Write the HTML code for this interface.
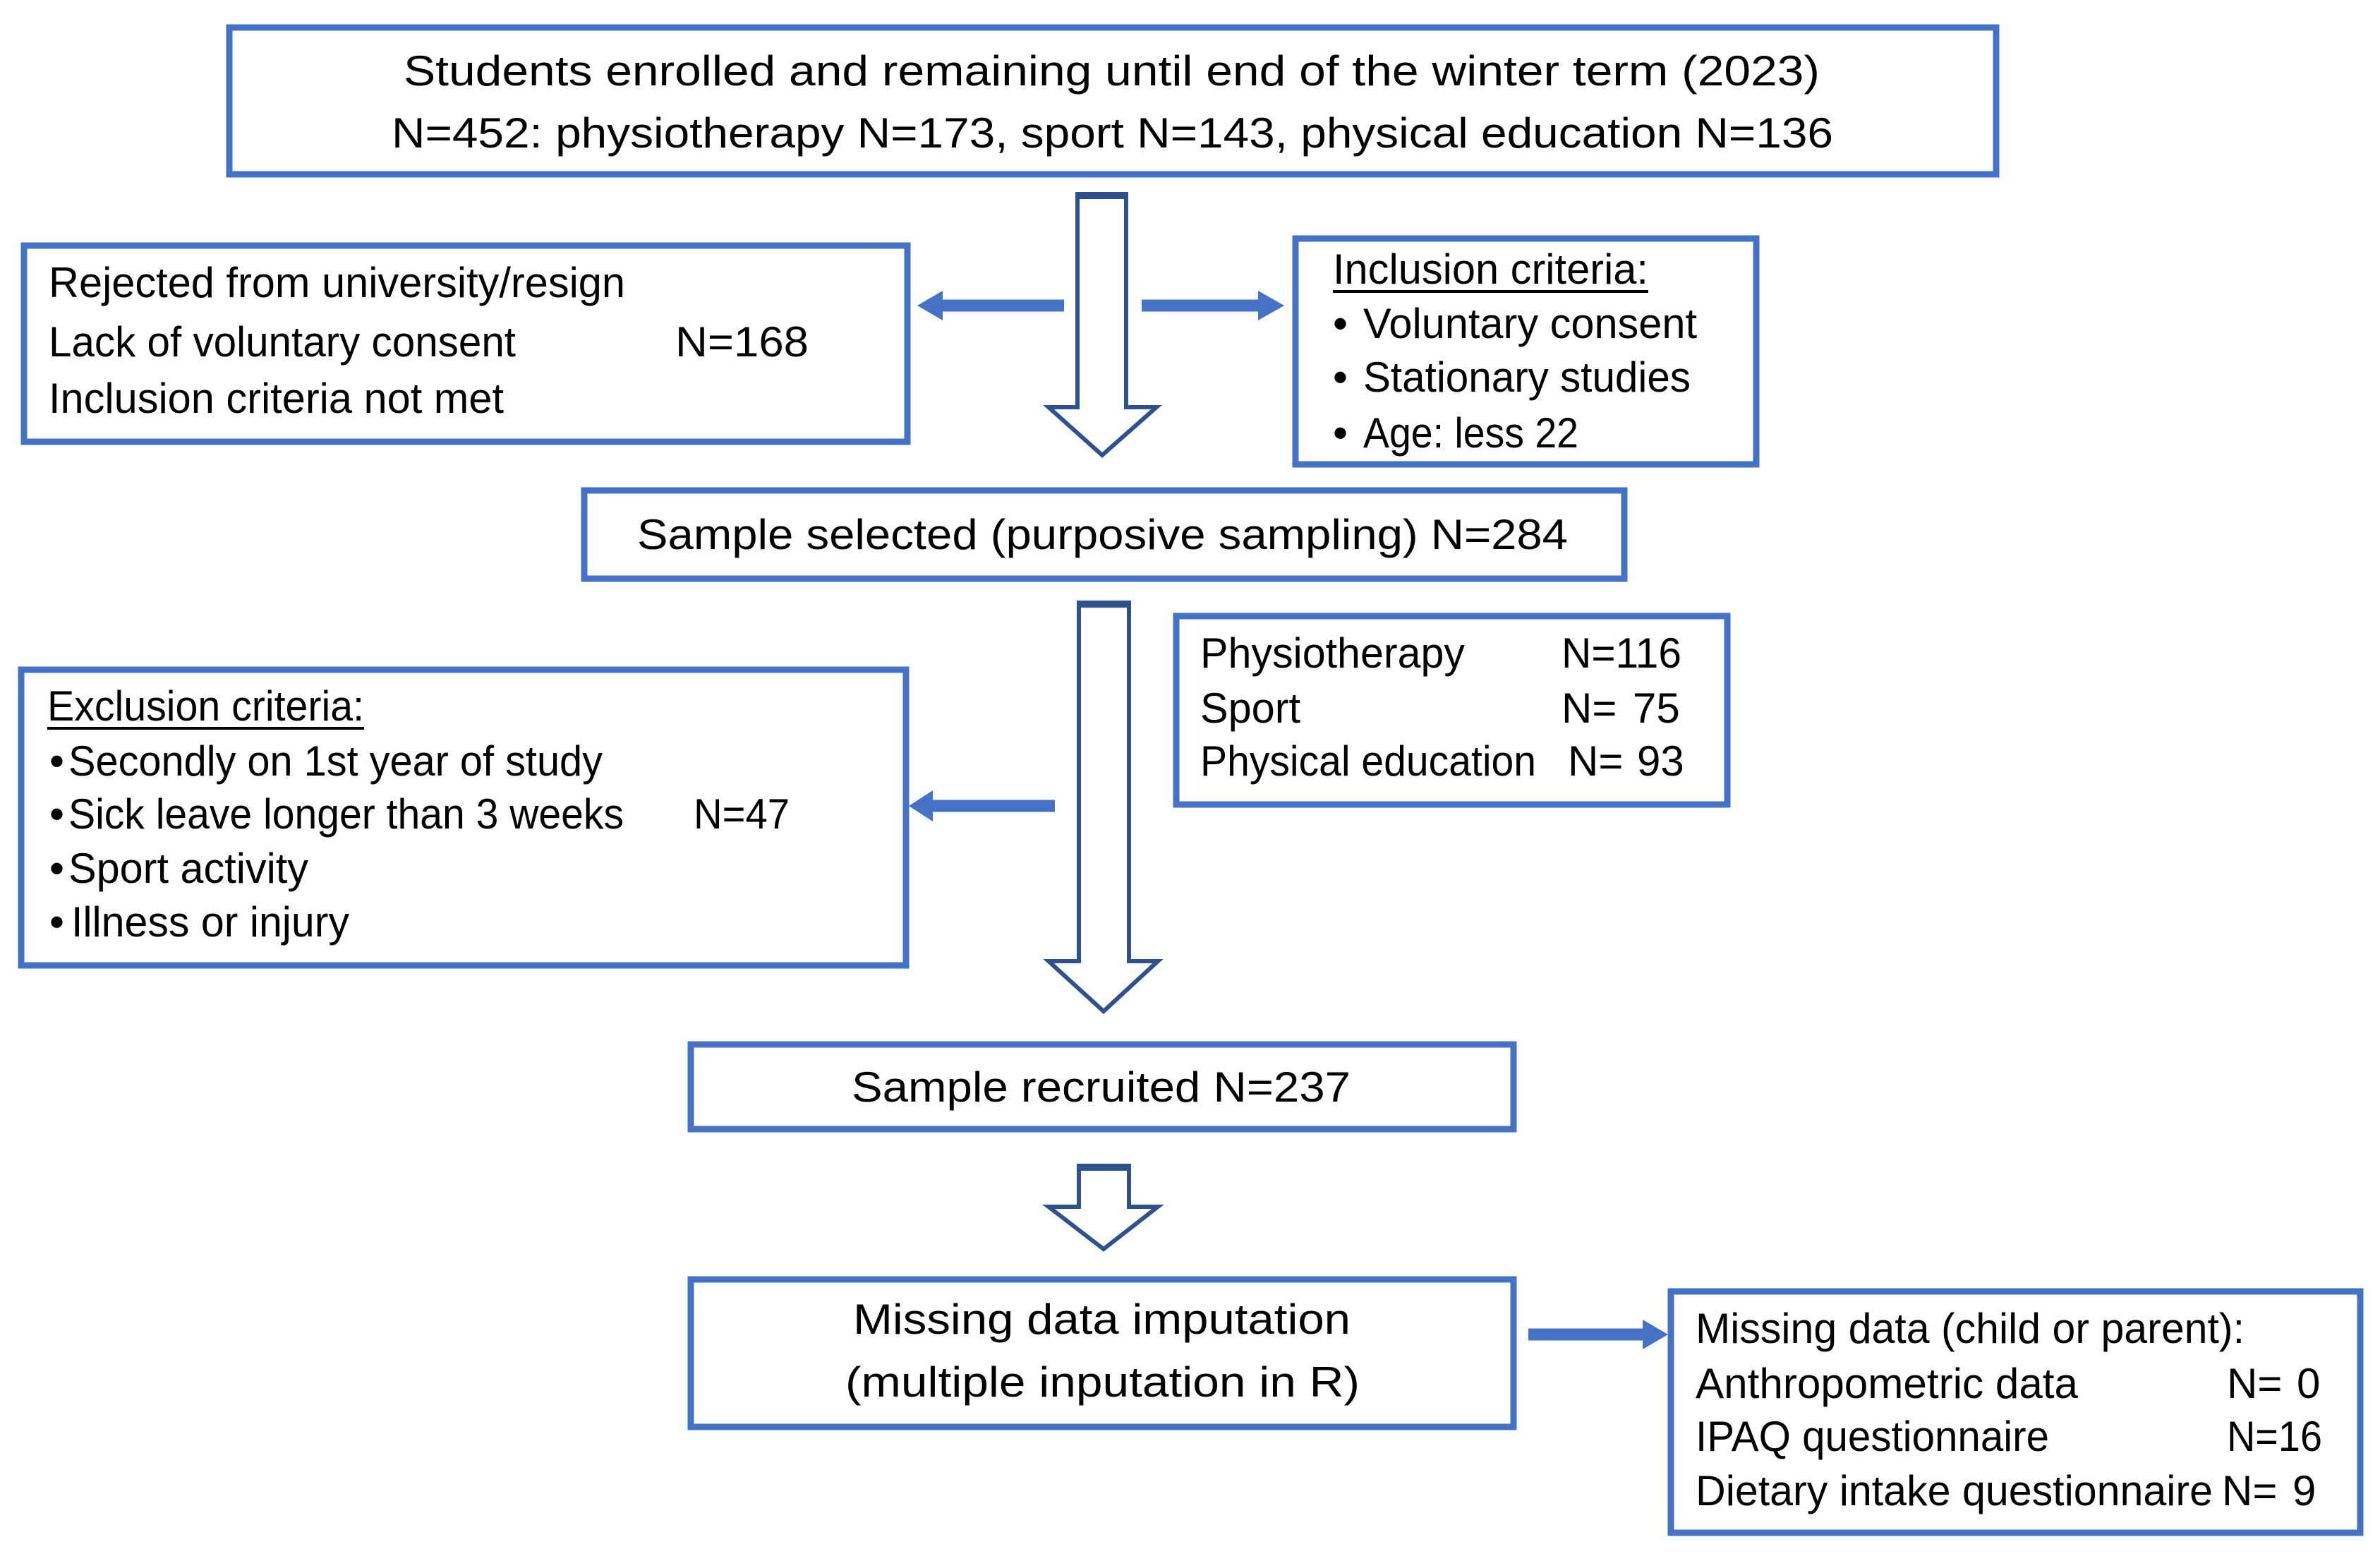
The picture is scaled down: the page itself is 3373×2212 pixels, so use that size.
<!DOCTYPE html>
<html><head><meta charset="utf-8"><style>
html,body{margin:0;padding:0;background:#fff;}
svg{display:block;}
text{font-family:"Liberation Sans",sans-serif;font-size:60px;fill:#000;}
</style></head><body>
<svg width="3373" height="2212" viewBox="0 0 3373 2212" xmlns="http://www.w3.org/2000/svg">
<g fill="#fff" stroke="#4472C4" stroke-width="9">
<rect x="325" y="39" width="2504" height="208"/>
<rect x="34" y="348" width="1252" height="278"/>
<rect x="1836" y="338" width="653" height="320"/>
<rect x="828" y="695" width="1474" height="125"/>
<rect x="1667" y="873" width="781" height="267"/>
<rect x="30" y="949" width="1254" height="419"/>
<rect x="979" y="1480" width="1166" height="120"/>
<rect x="979" y="1813" width="1166" height="209"/>
<rect x="2368" y="1830" width="977" height="342"/>
</g>
<g fill="#fff" stroke="#2F528F" stroke-width="6" stroke-linejoin="miter">
<polygon points="1527,275 1596,275 1596,577 1639,577 1562,645 1486,577 1527,577"/>
<polygon points="1529,854 1600,854 1600,1362 1641,1362 1564,1433 1486,1362 1529,1362"/>
<polygon points="1529,1652 1600,1652 1600,1710 1641,1710 1564,1770 1486,1710 1529,1710"/>
</g>
<g fill="#2F528F">
<rect x="1524" y="272" width="75" height="10"/>
<rect x="1526" y="851" width="77" height="10"/>
<rect x="1526" y="1649" width="77" height="10"/>
</g>
<g stroke="#4472C4" stroke-width="17" fill="#4472C4">
<line x1="1508" y1="433" x2="1320" y2="433"/>
<line x1="1618" y1="433" x2="1785" y2="433"/>
<line x1="1495" y1="1142" x2="1315" y2="1142"/>
<line x1="2166" y1="1891" x2="2330" y2="1891"/>
</g>
<g fill="#4472C4">
<polygon points="1300,433 1336,412 1336,454"/>
<polygon points="1820,433 1783,412 1783,454"/>
<polygon points="1288,1142 1322,1120 1322,1164"/>
<polygon points="2364,1891 2328,1870 2328,1912"/>
</g>
<g>
<text x="572" y="121" textLength="2007" lengthAdjust="spacingAndGlyphs">Students enrolled and remaining until end of the winter term (2023)</text>
<text x="555" y="209" textLength="2043" lengthAdjust="spacingAndGlyphs">N=452: physiotherapy N=173, sport N=143, physical education N=136</text>

<text x="69" y="421" textLength="817" lengthAdjust="spacingAndGlyphs">Rejected from university/resign</text>
<text x="69" y="505" textLength="662" lengthAdjust="spacingAndGlyphs">Lack of voluntary consent</text>
<text x="957" y="505" textLength="189" lengthAdjust="spacingAndGlyphs">N=168</text>
<text x="69" y="585" textLength="645" lengthAdjust="spacingAndGlyphs">Inclusion criteria not met</text>

<text x="1889" y="402" textLength="447" lengthAdjust="spacingAndGlyphs">Inclusion criteria:</text>
<rect x="1889" y="411" width="447" height="4" fill="#000"/>
<text x="1889" y="479">•</text><text x="1932" y="479" textLength="473" lengthAdjust="spacingAndGlyphs">Voluntary consent</text>
<text x="1889" y="555">•</text><text x="1932" y="555" textLength="464" lengthAdjust="spacingAndGlyphs">Stationary studies</text>
<text x="1889" y="634">•</text><text x="1932" y="634" textLength="305" lengthAdjust="spacingAndGlyphs">Age: less 22</text>

<text x="903" y="778" textLength="1319" lengthAdjust="spacingAndGlyphs">Sample selected  (purposive  sampling) N=284</text>

<text x="1701" y="946" textLength="375" lengthAdjust="spacingAndGlyphs">Physiotherapy</text>
<text x="2213" y="946" textLength="170" lengthAdjust="spacingAndGlyphs">N=116</text>
<text x="1701" y="1024" textLength="142" lengthAdjust="spacingAndGlyphs">Sport</text>
<text x="2213" y="1024">N=</text><text x="2314" y="1024">75</text>
<text x="1701" y="1099" textLength="476" lengthAdjust="spacingAndGlyphs">Physical education</text>
<text x="2222" y="1099">N=</text><text x="2320" y="1099">93</text>

<text x="67" y="1021" textLength="449" lengthAdjust="spacingAndGlyphs">Exclusion criteria:</text>
<rect x="67" y="1030" width="449" height="4" fill="#000"/>
<text x="70" y="1099">•</text><text x="97" y="1099" textLength="757" lengthAdjust="spacingAndGlyphs">Secondly on 1st year of study</text>
<text x="70" y="1174">•</text><text x="97" y="1174" textLength="787" lengthAdjust="spacingAndGlyphs">Sick leave longer than 3 weeks</text>
<text x="983" y="1174" textLength="136" lengthAdjust="spacingAndGlyphs">N=47</text>
<text x="70" y="1251">•</text><text x="97" y="1251" textLength="340" lengthAdjust="spacingAndGlyphs">Sport activity</text>
<text x="70" y="1327">•</text><text x="101" y="1327" textLength="394" lengthAdjust="spacingAndGlyphs">Illness or injury</text>

<text x="1207" y="1561" textLength="707" lengthAdjust="spacingAndGlyphs">Sample recruited  N=237</text>

<text x="1209" y="1890" textLength="705" lengthAdjust="spacingAndGlyphs">Missing data imputation</text>
<text x="1198" y="1979" textLength="729" lengthAdjust="spacingAndGlyphs">(multiple inputation in R)</text>

<text x="2403" y="1903" textLength="778" lengthAdjust="spacingAndGlyphs">Missing data (child or parent):</text>
<text x="2403" y="1981" textLength="542" lengthAdjust="spacingAndGlyphs">Anthropometric data</text>
<text x="3156" y="1981">N=</text><text x="3255" y="1981">0</text>
<text x="2403" y="2056" textLength="501" lengthAdjust="spacingAndGlyphs">IPAQ questionnaire</text>
<text x="3156" y="2056" textLength="135" lengthAdjust="spacingAndGlyphs">N=16</text>
<text x="2403" y="2133" textLength="733" lengthAdjust="spacingAndGlyphs">Dietary intake questionnaire</text>
<text x="3149" y="2133">N=</text><text x="3249" y="2133">9</text>
</g>
</svg>
</body></html>
